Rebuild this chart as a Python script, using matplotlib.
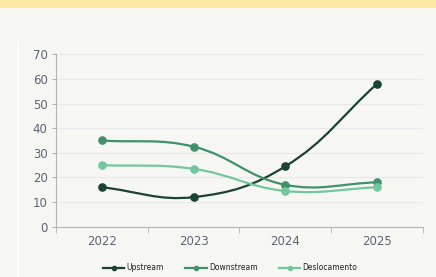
import numpy as np
import matplotlib.pyplot as plt
from matplotlib.path import Path
from matplotlib.patches import PathPatch, Rectangle

years = ["2022", "2023", "2024", "2025"]
upstream = [16, 12, 24.5, 58]
downstream = [35, 32.5, 17, 18]
deslocamento = [25, 23.5, 14.5, 16]

series = [
    ("Upstream", upstream, "#1b4332"),
    ("Downstream", downstream, "#40916c"),
    ("Deslocamento", deslocamento, "#74c69d"),
]


def spline_path(ax, xs, ys, tension=0.4):
    """Chart.js-like bezier through points, built in display space."""
    pts = ax.transData.transform(np.column_stack([xs, ys]))
    n = len(pts)
    ctrl_prev, ctrl_next = [], []
    for i in range(n):
        cur = pts[i]
        prev = pts[i - 1] if i > 0 else cur
        nxt = pts[i + 1] if i < n - 1 else cur
        d01 = np.hypot(*(cur - prev))
        d12 = np.hypot(*(nxt - cur))
        tot = d01 + d12 if d01 + d12 > 0 else 1
        fa = tension * d01 / tot
        fb = tension * d12 / tot
        ctrl_prev.append(cur - fa * (nxt - prev))
        ctrl_next.append(cur + fb * (nxt - prev))
    verts = [pts[0]]
    codes = [Path.MOVETO]
    for i in range(n - 1):
        verts += [ctrl_next[i], ctrl_prev[i + 1], pts[i + 1]]
        codes += [Path.CURVE4] * 3
    inv = ax.transData.inverted()
    return Path(inv.transform(np.array(verts)), codes)


fig = plt.figure(figsize=(4.36, 2.77), dpi=100)
fig.patch.set_facecolor("#f6f7f2")
fig.add_artist(Rectangle((0, 0.971), 1, 0.029, transform=fig.transFigure,
                         facecolor="#ffe8a3", edgecolor="none"))
fig.add_artist(Rectangle((0.038, 0), 0.005, 0.848, transform=fig.transFigure,
                         facecolor="#ffffff", edgecolor="none"))

ax = fig.add_axes([0.1284, 0.1816, 0.8416, 0.6224])
ax.set_facecolor("#f6f7f2")
x = np.arange(len(years))
ax.set_xlim(-0.5, len(years) - 0.5)
ax.set_ylim(0, 70)
ax.set_yticks(range(0, 71, 10))
ax.set_xticks(x)
ax.set_xticklabels(years)
ax.set_xticks(np.arange(-0.5, len(years), 1), minor=True)

ax.grid(axis="y", color="#e6e8ea", linewidth=0.8)
ax.set_axisbelow(True)
for s in ["top", "right"]:
    ax.spines[s].set_visible(False)
for s in ["left", "bottom"]:
    ax.spines[s].set_color("#b5b5b5")
    ax.spines[s].set_linewidth(0.8)
ax.tick_params(axis="y", length=3, color="#b5b5b5", labelsize=8.5,
               labelcolor="#5f6470", pad=3)
ax.tick_params(axis="x", which="major", length=0, labelsize=8.5,
               labelcolor="#5f6470", pad=6)
ax.tick_params(axis="x", which="minor", length=4, color="#b5b5b5")

handles = []
for name, vals, color in series:
    path = spline_path(ax, x, vals)
    ax.add_patch(PathPatch(path, facecolor="none", edgecolor=color,
                           linewidth=1.6, zorder=3))
    ax.plot(x, vals, linestyle="none", marker="o", markersize=5.2,
            color=color, zorder=4)
    h, = ax.plot([], [], color=color, linewidth=1.6, marker="o",
                 markersize=3, label=name)
    handles.append(h)

fig.legend(handles=handles, loc="center", bbox_to_anchor=(0.528, 0.033),
           ncol=3, frameon=False, fontsize=5.5, handlelength=2.8,
           handletextpad=0.3, columnspacing=2.8, labelcolor="#222222")

fig.savefig("out.png", dpi=100, facecolor=fig.get_facecolor())
